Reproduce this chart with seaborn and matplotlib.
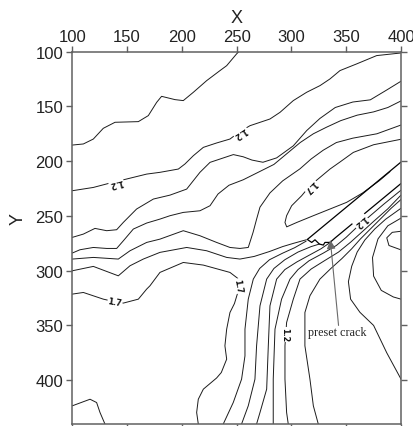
import matplotlib
matplotlib.use("Agg")
import matplotlib.pyplot as plt
import seaborn as sns
import pandas as pd

# ---- contour lines (x, y in data units) ----
A_x = [252, 250, 240.9, 234.8, 222.6, 210.5, 201.3, 193.7, 181.5, 177, 169.4, 160.3, 139, 128.3, 119.2, 110.1, 100]
A_y = [100, 102, 112.8, 117.3, 126.5, 137.1, 144.7, 143.8, 140.8, 146.3, 158.4, 163.9, 164.5, 170, 179.8, 184.3, 185.3]

B_x = [100, 119.2, 134.4, 149.6, 167.9, 180, 196.8, 202.8, 210.5, 219.6, 231.7, 243.9, 253, 262.2, 280.4, 289.6, 301.7, 313.9, 326.1, 335.2, 344.3, 359.5, 377.8, 400]
B_y = [227, 224, 220, 216.3, 211.8, 210.2, 207.2, 202.6, 195, 187.4, 183.4, 179.8, 173, 167.6, 161.5, 155.4, 144.7, 137.1, 131, 124.9, 117.3, 111.2, 103.6, 101.2]

C_x = [100, 110.1, 120.7, 131.4, 140.5, 146.6, 158.7, 174, 189.2, 204.4, 216.5, 225.7, 235, 247, 256, 264, 274, 286.5, 301.7, 314, 326, 340, 356, 372, 387, 400]
C_y = [269.6, 266.6, 261.4, 263.5, 262.6, 255.9, 243.7, 234.6, 231, 225.5, 210.2, 201.1, 198, 194, 196, 199, 201, 197, 186, 172, 161, 151, 146, 144, 135, 127]

D_x = [100, 107, 119.2, 131.4, 140.5, 146.6, 155.7, 167.9, 180, 189.2, 201.3, 216.5, 225.7, 233, 243, 256, 264, 272, 284, 296, 308, 320, 332, 345, 360, 375, 388, 400]
D_y = [283.9, 280.9, 278.8, 279.7, 279.7, 272.7, 262, 256.5, 252.9, 249.8, 246.8, 245.3, 240.7, 230, 222, 217, 213, 209, 203, 193, 183, 175, 169, 163, 158, 155, 151, 145]

E_x = [100, 119.2, 142, 152.7, 167.9, 180, 201.3, 216.5, 231.7, 243.9, 253, 260.6, 265, 268.2, 271.3, 280.4, 292, 307.8, 318, 329, 341, 356, 378, 400]
E_y = [289.4, 287.9, 289.4, 281.8, 274.2, 271.2, 263.5, 268.1, 274.2, 278.8, 279.7, 278.8, 265, 253, 242, 229, 218, 207, 198, 190, 183, 179, 175, 167]

F_x = [100, 119.2, 142, 152.7, 164.8, 180, 204.4, 222.6, 240.9, 253, 266, 280, 292, 302, 313.5]
F_y = [300.1, 296.1, 304.7, 295.5, 289.4, 283.3, 278.8, 281.8, 287.9, 289.4, 287, 282.5, 278, 275, 271.8]

G_x = [100, 110.1, 128.3, 139, 146.6, 160.3, 167.9, 170.9, 180, 201.3, 219.6, 243.9, 251, 252, 248, 243.9, 240.9, 239.3, 240.9, 236, 231.7, 219.6, 215, 213.5, 215]
G_y = [321.4, 319.9, 326, 328.4, 329.6, 326, 316.8, 313.8, 301.6, 292.5, 294.9, 301.6, 307, 316.8, 330, 338.2, 353.4, 368.6, 380.8, 393, 398, 408.2, 417.4, 429.5, 440]

H_x = [100, 116.2, 122.2, 125.3, 129.8]
H_y = [423.4, 417.4, 420.4, 429.5, 440]

T_x = [400, 375, 356.5, 344, 335.2, 326.1, 317, 309.3, 300.2, 295.6, 294.1, 295.7, 304.8, 320, 335.2, 350.4, 365, 380, 390]
T_y = [180, 185, 192, 201, 207.2, 214.8, 222.4, 231.6, 240.7, 249.8, 256, 260, 256, 249.8, 243.7, 237.6, 229, 218, 209.5]

L2_x = [237.8, 246.9, 254.5, 257.6, 257.6, 260.6, 265.2, 271, 280, 292, 303, 313.5]
L2_y = [440, 420.4, 399.1, 377.8, 353.4, 326, 307.7, 298, 290, 284, 279, 273]

L3_x = [254.5, 260.6, 266.7, 268.2, 271.3, 277.4, 284, 294, 306, 318, 325.5]
L3_y = [440, 423.4, 399.1, 368.6, 332.1, 307.7, 298, 290, 283, 278, 275.7]

L4_x = [268.2, 271.3, 277.4, 278.9, 280.4, 286.5, 294, 305, 316, 327, 335]
L4_y = [440, 429.5, 408.2, 368.6, 332.1, 307.7, 299, 292, 286, 280, 274.5]

L5_x = [283.4, 283.4, 285, 291, 298.7, 306, 316, 329, 341, 350, 359.5, 370, 384, 400]
L5_y = [440, 399.1, 353.4, 326, 307.7, 299, 291, 284, 277, 269.5, 260.5, 251.5, 239.5, 226.5]

L6_x = [297.1, 295.6, 294.1, 294.1, 295.6, 301.7, 307.8, 318, 330, 343, 354, 364, 375, 388, 400]
L6_y = [440, 429.5, 399.1, 368.6, 347.3, 326, 307.7, 298.5, 291, 283, 274, 265, 255, 243.5, 231]

L7_x = [324.5, 320, 316.9, 312.3, 312.3, 316.9, 326, 336, 346, 355, 363, 372, 382, 391, 400]
L7_y = [440, 423.4, 399.1, 368.6, 338.2, 322.9, 307.7, 298, 289, 280, 271, 262, 252, 243, 235]

R_x = [400, 387, 375, 362.5, 354, 352, 355, 360, 367, 376, 386, 400]
R_y = [399, 375, 350, 338, 326, 310, 296, 283, 272, 262, 253, 243]

Outer_x = [400, 388, 379, 374, 375, 382, 393, 400]
Outer_y = [252, 259, 271, 288, 305, 318, 324, 326]

Loop_x = [400, 392, 387, 389, 400]
Loop_y = [264, 265, 270, 277, 281]

# preset crack faces
crack_up_x = [314.5, 400]
crack_up_y = [271.5, 200.8]
crack_lo_x = [314.5, 318.5, 321.5, 325.5, 329.1, 330.6, 335.2, 340, 400]
crack_lo_y = [271.5, 274.2, 271.8, 275.7, 276.6, 274.2, 274.2, 270, 220.4]

# contour labels: text, x, y, rotation
lab_text = ["1.2", "1.2", "1.7", "1.2", "1.7", "1.7", "1.2"]
lab_x = [140, 253, 317, 362.6, 139, 251.5, 294.1]
lab_y = [219.5, 173, 222.4, 254.4, 328.4, 314, 358]
lab_rot = [194, 214, 225, 220, -10, -80, -90]

x_ticks = [100, 150, 200, 250, 300, 350, 400]
y_ticks = [100, 150, 200, 250, 300, 350, 400]

lines = {
    "A": (A_x, A_y), "B": (B_x, B_y), "C": (C_x, C_y), "D": (D_x, D_y),
    "E": (E_x, E_y), "F": (F_x, F_y), "G": (G_x, G_y), "H": (H_x, H_y),
    "T": (T_x, T_y), "L2": (L2_x, L2_y), "L3": (L3_x, L3_y), "L4": (L4_x, L4_y),
    "L5": (L5_x, L5_y), "L6": (L6_x, L6_y), "L7": (L7_x, L7_y), "R": (R_x, R_y),
    "Outer": (Outer_x, Outer_y), "Loop": (Loop_x, Loop_y),
}
rows = []
for name, (xs, ys) in lines.items():
    for i, (xv, yv) in enumerate(zip(xs, ys)):
        rows.append({"line": name, "order": i, "x": xv, "y": yv})
df = pd.DataFrame(rows)

crack_rows = []
for name, (xs, ys) in {"up": (crack_up_x, crack_up_y), "lo": (crack_lo_x, crack_lo_y)}.items():
    for i, (xv, yv) in enumerate(zip(xs, ys)):
        crack_rows.append({"line": name, "order": i, "x": xv, "y": yv})
dfc = pd.DataFrame(crack_rows)

sns.set_theme(style="ticks")
plt.rcParams["font.family"] = ["Liberation Sans Narrow", "Liberation Sans", "DejaVu Sans"]

fig = plt.figure(figsize=(4.14, 4.27), dpi=100)
ax = fig.add_axes([0.1746, 0.0047, 0.794, 0.872])

sns.lineplot(data=df, x="x", y="y", units="line", estimator=None, sort=False,
             color="#1c1c1c", linewidth=0.7, legend=False, ax=ax)
sns.lineplot(data=dfc, x="x", y="y", units="line", estimator=None, sort=False,
             color="#000000", linewidth=0.9, legend=False, ax=ax)

for t, xv, yv, r in zip(lab_text, lab_x, lab_y, lab_rot):
    ax.text(xv, yv, t, rotation=r, rotation_mode="anchor", ha="center", va="center",
            fontsize=5.8, fontweight="bold", family="DejaVu Sans", color="#111111",
            bbox=dict(fc="white", ec="none", pad=0.4), zorder=5)

ax.annotate("", xy=(335.5, 272.0), xytext=(343, 350),
            arrowprops=dict(arrowstyle="-|>", color="#6a6a6a", lw=0.8,
                            mutation_scale=13, shrinkA=0, shrinkB=0), zorder=6)
ax.text(315.4, 356.4, "preset crack", family=["Liberation Serif", "DejaVu Serif"],
        fontsize=8.7, ha="left", va="center", color="#222222",
        bbox=dict(fc="white", ec="none", pad=0.2), zorder=6)

ax.set_xlim(100, 400)
ax.set_ylim(440, 100)
ax.set_xticks(x_ticks)
ax.set_yticks(y_ticks)
ax.set_xlabel("")
ax.set_ylabel("")
ax.tick_params(axis="x", top=True, bottom=True, labeltop=True, labelbottom=False,
               direction="out", length=4, width=1, color="#606060",
               labelsize=12, pad=1.5, labelcolor="#222222")
ax.tick_params(axis="y", left=True, right=True, labelleft=True, labelright=False,
               direction="out", length=4, width=1, color="#606060",
               labelsize=12, pad=2.5, labelcolor="#222222")
for s in ax.spines.values():
    s.set_visible(True)
    s.set_color("#606060")
    s.set_linewidth(1.1)

fig.text(237 / 414, 1 - 18.5 / 427, "X", ha="center", va="center", fontsize=13, color="#222222")
fig.text(18 / 414, 1 - 219.5 / 427, "Y", ha="center", va="center", rotation=90,
         fontsize=13, color="#222222")

fig.savefig("out.png", dpi=100, facecolor="white")
